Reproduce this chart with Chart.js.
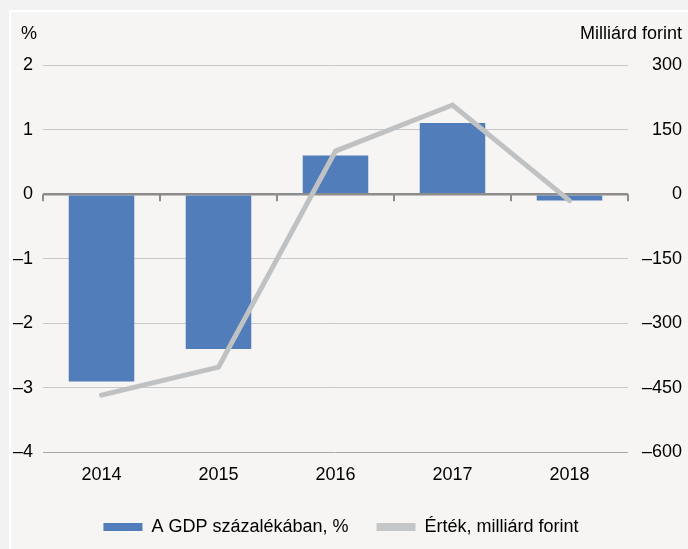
<!DOCTYPE html>
<html>
<head>
<meta charset="utf-8">
<script src="https://cdn.jsdelivr.net/npm/chart.js@4"></script>
<style>
  body { margin: 0; background: #f2f2f2; }
  #wrap { width: 688px; height: 549px; position: relative; }
</style>
</head>
<body>
<div id="wrap"><canvas id="gdpChart"></canvas></div>
<script>
const years = ['2014', '2015', '2016', '2017', '2018'];
const gdpShare = [-2.9, -2.4, 0.6, 1.1, -0.1];
const valueBn = [-467, -402, 100, 207, -15];
const leftTicks = [-4, -3, -2, -1, 0, 1, 2];
const rightTicks = [-600, -450, -300, -150, 0, 150, 300];

const fmt = v => v < 0 ? '\u2013' + Math.abs(v) : String(v);
const FONT = "'Liberation Sans', Arial, sans-serif";

// background with the thin white frame
const backdrop = {
    id: 'backdrop',
    beforeDraw(chart) {
        const c = chart.ctx;
        c.save();
        c.fillStyle = '#f2f2f2';
        c.fillRect(0, 0, chart.width, chart.height);
        c.fillStyle = '#ffffff';
        c.fillRect(9, 10, chart.width, chart.height);
        c.fillStyle = '#f6f5f3';
        c.fillRect(11, 12, chart.width, chart.height);
        c.restore();
    }
};

// axis unit labels and the small ticks on the zero line
const extras = {
    id: 'extras',
    afterDraw(chart) {
        const c = chart.ctx;
        const x = chart.scales.x;
        const y = chart.scales.y;
        const y0 = y.getPixelForValue(0);
        c.save();
        c.strokeStyle = '#8c8c8c';
        c.lineWidth = 2;
        for (let i = 0; i <= years.length; i++) {
            const px = x.left + i * (x.right - x.left) / years.length;
            c.beginPath();
            c.moveTo(px, y0);
            c.lineTo(px, y0 + 7);
            c.stroke();
        }
        c.fillStyle = '#000';
        c.font = '18px ' + FONT;
        c.textBaseline = 'middle';
        c.textAlign = 'left';
        c.fillText('%', 21, 34);
        c.textAlign = 'right';
        c.fillText('Milliárd forint', 682, 34);
        c.restore();
    }
};

new Chart(document.getElementById('gdpChart'), {
    data: {
        labels: years,
        datasets: [
            {
                type: 'line',
                label: 'Érték, milliárd forint',
                data: valueBn,
                yAxisID: 'y1',
                borderColor: '#bfc1c3',
                backgroundColor: '#bfc1c3',
                borderWidth: 5,
                borderCapStyle: 'round',
                pointRadius: 0,
                tension: 0,
                order: 0
            },
            {
                type: 'bar',
                label: 'A GDP százalékában, %',
                data: gdpShare,
                yAxisID: 'y',
                backgroundColor: '#517dba',
                categoryPercentage: 1,
                barPercentage: 0.56,
                order: 1
            }
        ]
    },
    options: {
        responsive: true,
        maintainAspectRatio: false,
        animation: false,
        layout: { padding: { top: 65, right: 6, bottom: 3, left: 0 } },
        scales: {
            x: {
                grid: { display: false },
                border: { display: false },
                ticks: { color: '#000', font: { family: FONT, size: 18 }, padding: 4 }
            },
            y: {
                position: 'left',
                min: -4,
                max: 2,
                afterBuildTicks: s => { s.ticks = leftTicks.map(v => ({ value: v })); },
                afterFit: s => { s.width = 43; },
                border: { display: false },
                grid: {
                    drawTicks: false,
                    color: ctx => ctx.tick.value === 0 ? '#8c8c8c' : (ctx.tick.value === -4 ? '#a8a8a8' : '#c8c8c8'),
                    lineWidth: ctx => ctx.tick.value === 0 ? 2.5 : 1
                },
                ticks: { color: '#000', font: { family: FONT, size: 18 }, padding: 10, callback: fmt }
            },
            y1: {
                position: 'right',
                min: -600,
                max: 300,
                afterBuildTicks: s => { s.ticks = rightTicks.map(v => ({ value: v })); },
                afterFit: s => { s.width = 54; },
                border: { display: false },
                grid: { display: false, drawTicks: false },
                ticks: { color: '#000', font: { family: FONT, size: 18 }, padding: 10, align: 'center', crossAlign: 'far', callback: fmt }
            }
        },
        plugins: {
            tooltip: { enabled: false },
            legend: {
                position: 'bottom',
                reverse: true,
                labels: {
                    color: '#000',
                    font: { family: FONT, size: 18 },
                    boxWidth: 39,
                    boxHeight: 8,
                    padding: 28,
                    generateLabels: chart => chart.data.datasets.map((d, i) => ({
                        text: d.label,
                        fillStyle: d.type === 'line' ? '#c4c6c8' : d.backgroundColor,
                        strokeStyle: 'rgba(0,0,0,0)',
                        lineWidth: 0,
                        fontColor: '#000',
                        datasetIndex: i,
                        hidden: false
                    }))
                }
            }
        }
    },
    plugins: [backdrop, extras]
});
</script>
</body>
</html>
